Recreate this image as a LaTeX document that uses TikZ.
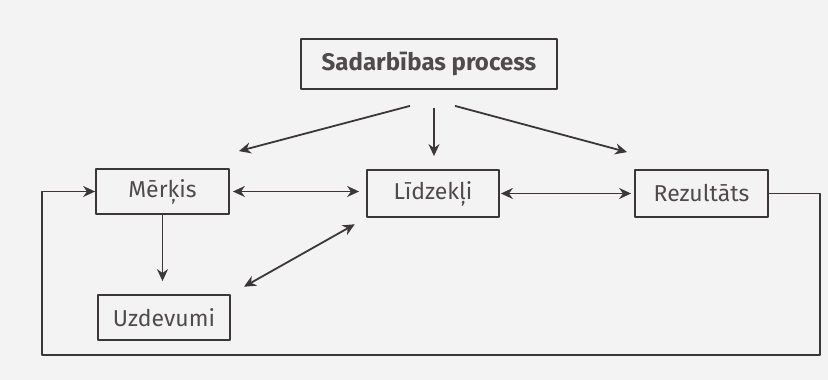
\documentclass[tikz,border=0pt]{standalone}
\usepackage{fontspec}
\setmainfont{Fira Sans}
\usetikzlibrary{arrows.meta,calc}
\definecolor{ink}{HTML}{3C3639}
\definecolor{paper}{HTML}{F4F3F3}

\begin{document}
\begin{tikzpicture}[x=1pt, y=-1pt, line width=1.8pt, line join=round,
  box/.style={draw=ink, inner sep=0pt, text=ink!90,
              font=\fontsize{23}{27}\selectfont},
  arr/.style={draw=ink, -{Stealth[length=12pt,width=11pt]}},
  arrs/.style={draw=ink, {Stealth[length=12pt,width=11pt]}-{Stealth[length=12pt,width=11pt]}}]

  %% ════ 底色 ════
  \fill[paper] (0,0) rectangle (828,380);

  %% ════ 方框 ════
  \node[box, minimum width=256pt, minimum height=50pt, font=\fontsize{24}{28}\selectfont\bfseries] (sp) at (429,64) {Sadarbības process};
  \node[box, minimum width=133pt, minimum height=45pt] (merkis) at (162.5,191.5) {Mērķis};
  \node[box, minimum width=132pt, minimum height=47pt] (lidz) at (433,193.5) {Līdzekļi};
  \node[box, minimum width=133pt, minimum height=47pt] (rez) at (701.5,193.5) {Rezultāts};
  \node[box, minimum width=132pt, minimum height=45pt] (uzd) at (164,317.5) {Uzdevumi};

  %% ════ 箭头 ════
  \draw[arr] ($(sp.south)+(-19,16)$) -- ($(merkis.north east)+(9,-17)$);
  \draw[arr] ($(sp.south)+(5,18)$) -- ($(lidz.north)+(1,-13)$);
  \draw[arr] ($(sp.south)+(26,16)$) -- ($(rez.north west)+(-7,-17)$);
  \draw[arrs, shorten <=3pt, shorten >=7pt] (merkis.east) -- (merkis.east -| lidz.west);
  \draw[arrs, shorten <=1pt, shorten >=3pt] (lidz.east) -- (rez.west);
  \draw[arr, shorten >=13pt] (merkis.south) -- (merkis.south |- uzd.north);
  \draw[arrs, shorten <=15pt, shorten >=13pt] (uzd.north east) -- (lidz.south west);

  %% ════ 反馈回路 ════
  \coordinate (loopR) at (820,355);
  \coordinate (loopL) at (42,355);
  \draw[arr] (rez.east) -| (loopR) -- (loopL) |- (merkis.west);

  % 钉死画布
  \pgfresetboundingbox
  \path[use as bounding box] (0,0) rectangle (828,380);
\end{tikzpicture}
\end{document}
